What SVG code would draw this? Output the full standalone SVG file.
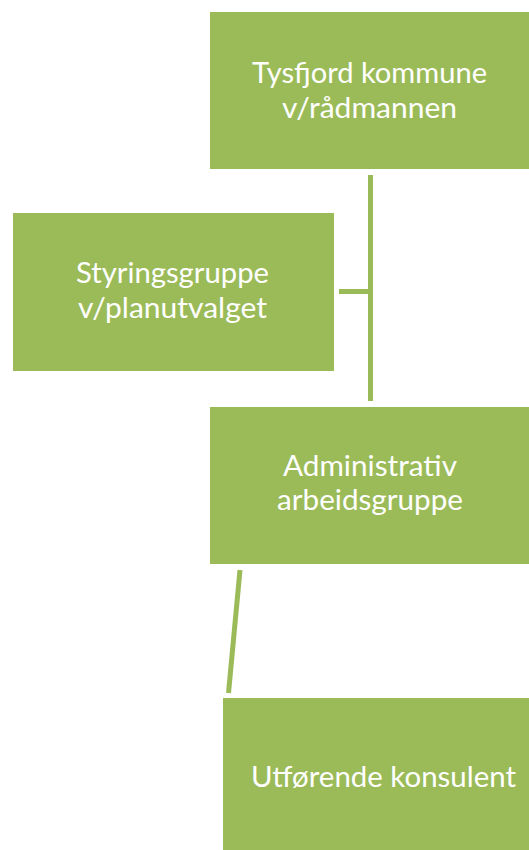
<svg xmlns="http://www.w3.org/2000/svg" width="529" height="850" viewBox="0 0 529 850">
<style>
.box{fill:#9BBB59;}
.lbl{font-family:Lato,"Open Sans","Liberation Sans",sans-serif;font-size:28px;fill:#FFFFFF;text-anchor:middle;}
.con{stroke:#9BBB59;stroke-width:5;fill:none;}
</style>
<rect width="529" height="850" fill="#FFFFFF"/>
<g id="connectors">
<line class="con" x1="370.5" y1="175" x2="370.5" y2="401"/>
<line class="con" x1="339" y1="291.5" x2="370.5" y2="291.5"/>
<line class="con" x1="240" y1="570" x2="228.5" y2="693"/>
</g>
<g id="node-tysfjord">
<rect class="box" x="210" y="12" width="319" height="157"/>
<text class="lbl" x="369.5" y="83" textLength="235" lengthAdjust="spacingAndGlyphs">Tysfjord kommune</text>
<text class="lbl" x="369.5" y="118" textLength="175" lengthAdjust="spacingAndGlyphs">v/rådmannen</text>
</g>
<g id="node-styringsgruppe">
<rect class="box" x="13" y="213" width="321" height="158"/>
<text class="lbl" x="172.5" y="283" textLength="193" lengthAdjust="spacingAndGlyphs">Styringsgruppe</text>
<text class="lbl" x="172.5" y="318" textLength="189" lengthAdjust="spacingAndGlyphs">v/planutvalget</text>
</g>
<g id="node-administrativ">
<rect class="box" x="210" y="407" width="319" height="157"/>
<text class="lbl" x="370" y="476" textLength="174" lengthAdjust="spacingAndGlyphs">Administrativ</text>
<text class="lbl" x="370" y="510" textLength="186" lengthAdjust="spacingAndGlyphs">arbeidsgruppe</text>
</g>
<g id="node-utforende">
<rect class="box" x="223" y="698" width="306" height="158"/>
<text class="lbl" x="383.5" y="787" textLength="265" lengthAdjust="spacingAndGlyphs">Utførende konsulent</text>
</g>
</svg>
